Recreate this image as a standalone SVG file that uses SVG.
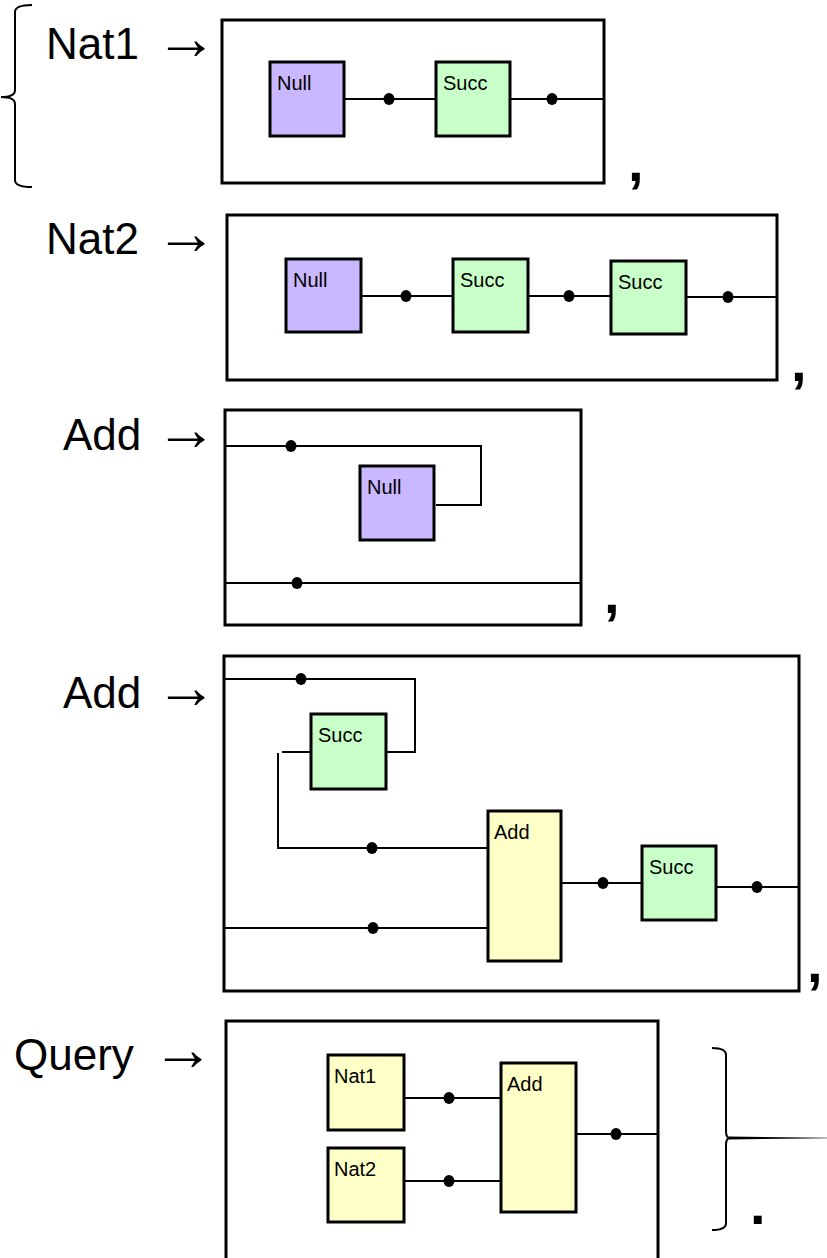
<svg xmlns="http://www.w3.org/2000/svg" width="827" height="1258" viewBox="0 0 827 1258">
<style>
.frame{fill:none;stroke:#000;stroke-width:3}
.null{fill:#C9B8FF;stroke:#000;stroke-width:3}
.succ{fill:#C8FFC8;stroke:#000;stroke-width:3}
.add{fill:#FFFFC8;stroke:#000;stroke-width:3}
.wire{fill:none;stroke:#000;stroke-width:2}
.dot{fill:#000}
.lbl{font-family:"Liberation Sans",Arial,sans-serif;font-size:44px;fill:#000}
.arr{font-size:62px}
.nl{font-family:"Liberation Sans",Arial,sans-serif;font-size:20px;fill:#000}
.punct{font-family:"Liberation Sans",Arial,sans-serif;font-size:56px;font-weight:bold;fill:#000}
.brace{fill:none;stroke:#000;stroke-width:2}
</style>
<rect width="827" height="1258" fill="#fff"/>

<!-- braces and punctuation -->
<path class="brace" d="M32,5 Q15,5 15,12 L15,90 Q15,97 1,97 Q15,97 15,104 L15,180 Q15,187 32,187"/>
<path class="brace" d="M712,1048 Q726,1048 726,1055 L726,1131 Q726,1138 730,1138 Q726,1138 726,1145 L726,1223 Q726,1230 712,1230"/>
<path fill="#000" d="M729,1136.5 L827,1137.7 L827,1138.3 L729,1139.5 Z"/>
<text class="punct" x="628" y="181">,</text>
<text class="punct" x="791" y="381">,</text>
<text class="punct" x="604" y="613">,</text>
<text class="punct" x="807" y="982">,</text>
<text class="punct" x="750" y="1224">.</text>

<!-- labels -->
<text class="lbl" x="46" y="59">Nat1 <tspan class="arr" x="155">→</tspan></text>
<text class="lbl" x="46" y="254">Nat2 <tspan class="arr" x="155">→</tspan></text>
<text class="lbl" x="63" y="450">Add <tspan class="arr" x="155">→</tspan></text>
<text class="lbl" x="63" y="708">Add <tspan class="arr" x="155">→</tspan></text>
<text class="lbl" x="14" y="1070">Query <tspan class="arr" x="152">→</tspan></text>

<!-- frames -->
<g id="frame-nat1"><rect class="frame" x="222" y="20" width="382" height="163"/></g>
<g id="frame-nat2"><rect class="frame" x="227" y="215" width="550" height="165"/></g>
<g id="frame-add1"><rect class="frame" x="225" y="410" width="356" height="215"/></g>
<g id="frame-add2"><rect class="frame" x="224" y="656" width="575" height="335"/></g>
<g id="frame-query"><rect class="frame" x="226" y="1021" width="432" height="260"/></g>

<!-- connectors -->
<g id="connectors">
  <path class="wire" d="M345,99 H435 M511,99 H604"/>
  <ellipse class="dot" cx="389" cy="99" rx="5.5" ry="6"/>
  <ellipse class="dot" cx="552" cy="99" rx="5.5" ry="6"/>

  <path class="wire" d="M362,296 H452 M529,296 H610 M687,297 H777"/>
  <ellipse class="dot" cx="406" cy="296" rx="5.5" ry="6"/>
  <ellipse class="dot" cx="569" cy="296" rx="5.5" ry="6"/>
  <ellipse class="dot" cx="728" cy="297" rx="5.5" ry="6"/>

  <path class="wire" d="M225,446 H481 V505 H436"/>
  <ellipse class="dot" cx="291" cy="446" rx="5.5" ry="6"/>
  <path class="wire" d="M225,583 H581"/>
  <ellipse class="dot" cx="297" cy="583" rx="5.5" ry="6"/>

  <path class="wire" d="M224,679 H415 V752 H387"/>
  <ellipse class="dot" cx="301" cy="679" rx="5.5" ry="6"/>
  <path class="wire" d="M282,752 H311"/>
  <path class="wire" d="M278,753 V848 H487"/>
  <ellipse class="dot" cx="372" cy="848" rx="5.5" ry="6"/>
  <path class="wire" d="M224,928 H487"/>
  <ellipse class="dot" cx="373" cy="928" rx="5.5" ry="6"/>
  <path class="wire" d="M562,883 H641"/>
  <ellipse class="dot" cx="603" cy="883" rx="5.5" ry="6"/>
  <path class="wire" d="M717,887 H799"/>
  <ellipse class="dot" cx="757" cy="887" rx="5.5" ry="6"/>

  <path class="wire" d="M405,1098 H500 M405,1181 H500 M577,1134 H658"/>
  <ellipse class="dot" cx="449" cy="1098" rx="5.5" ry="6"/>
  <ellipse class="dot" cx="449" cy="1181" rx="5.5" ry="6"/>
  <ellipse class="dot" cx="616" cy="1134" rx="5.5" ry="6"/>
</g>

<!-- nodes -->
<g id="nat1-null"><rect class="null" x="270" y="62" width="74" height="74"/><text class="nl" x="277" y="90">Null</text></g>
<g id="nat1-succ"><rect class="succ" x="436" y="62" width="74" height="74"/><text class="nl" x="443" y="90">Succ</text></g>

<g id="nat2-null"><rect class="null" x="286" y="259" width="75" height="73"/><text class="nl" x="293" y="287">Null</text></g>
<g id="nat2-succ1"><rect class="succ" x="453" y="259" width="75" height="73"/><text class="nl" x="460" y="287">Succ</text></g>
<g id="nat2-succ2"><rect class="succ" x="611" y="261" width="75" height="73"/><text class="nl" x="618" y="289">Succ</text></g>

<g id="add1-null"><rect class="null" x="360" y="466" width="74" height="74"/><text class="nl" x="367" y="494">Null</text></g>

<g id="add2-succ1"><rect class="succ" x="311" y="714" width="75" height="75"/><text class="nl" x="318" y="742">Succ</text></g>
<g id="add2-add"><rect class="add" x="488" y="811" width="73" height="150"/><text class="nl" x="494" y="839">Add</text></g>
<g id="add2-succ2"><rect class="succ" x="642" y="846" width="74" height="74"/><text class="nl" x="649" y="874">Succ</text></g>

<g id="query-nat1"><rect class="add" x="328" y="1055" width="76" height="75"/><text class="nl" x="334" y="1083">Nat1</text></g>
<g id="query-nat2"><rect class="add" x="328" y="1148" width="76" height="74"/><text class="nl" x="334" y="1176">Nat2</text></g>
<g id="query-add"><rect class="add" x="501" y="1063" width="75" height="149"/><text class="nl" x="507" y="1091">Add</text></g>
</svg>
